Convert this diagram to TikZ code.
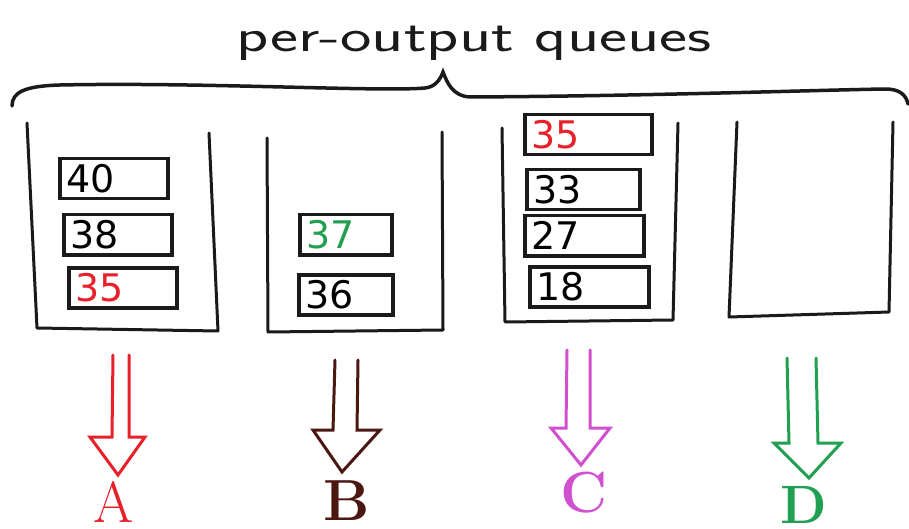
\documentclass[tikz,border=0pt]{standalone}
\usepackage{fontspec}
\newfontfamily\digitfont{DejaVu Sans}
\definecolor{inkred}{HTML}{E8202A}
\definecolor{inkbrown}{HTML}{4A1810}
\definecolor{inkmagenta}{HTML}{D050D0}
\definecolor{inkgreen}{HTML}{20A050}
\definecolor{inkgrey}{HTML}{1A1A1A}
\tikzset{
  wall/.style={draw=inkgrey, line width=3pt, line join=round, line cap=round},
  qbox/.style={draw=inkgrey, line width=3.5pt, anchor=north west, inner xsep=7pt,
    inner ysep=0pt, minimum height=40pt, align=left,
    font=\digitfont\fontsize{38}{38}\selectfont},
  outarrow/.style={line width=3pt, line join=miter, line cap=round},
  outlabel/.style={anchor=north, inner sep=0pt, font=\fontsize{58}{58}\selectfont},
  boldlabel/.style={outlabel, font=\bfseries\fontsize{58}{58}\selectfont}
}
\begin{document}
\begin{tikzpicture}[x=1pt, y=-1pt]
\useasboundingbox[fill=white] (0,0) rectangle (909,529);

% heading and its brace
\node[anchor=base, inner sep=0pt, text=inkgrey,
      font=\sffamily\fontsize{46}{46}\selectfont]
      (title) at (474,52) {\scalebox{1.45}[1]{per-output queues}};
\draw[inkgrey, line width=3.5pt, line cap=round]
  (12,106) .. controls (12,92) and (25,86) .. (60,85)
  .. controls (200,82) and (380,92) .. (425,88)
  .. controls (435,87) and (440,80) .. (443,72)
  .. controls (447,82) and (452,96) .. (470,97)
  .. controls (650,96) and (820,90) .. (885,89)
  .. controls (900,89) and (906,95) .. (908,104);

% queue A
\draw[wall] (27,123) -- (37,328) -- (218,331) -- (209,133);
\node[qbox, text width=94pt] (a40) at (58,157) {40};
\node[qbox, text width=94pt] (a38) at (62,213) {38};
\node[qbox, text width=94pt, text=inkred] (a35) at (67,266) {35};

% queue B
\draw[wall] (267,138) -- (268,332) -- (443,330) -- (442,132);
\node[qbox, text width=78pt, text=inkgreen] (b37) at (298,213) {37};
\node[qbox, text width=80pt] (b36) at (297,273) {36};

% queue C
\draw[wall] (502,128) -- (505,322) -- (673,320) -- (678,123);
\node[qbox, text width=113pt, text=inkred] (c35) at (523,113) {35};
\node[qbox, text width=99pt] (c33) at (525,168) {33};
\node[qbox, text width=105pt] (c27) at (523,214) {27};
\node[qbox, text width=105pt] (c18) at (528,265) {18};

% queue D (empty)
\draw[wall] (737,122) -- (729,317) -- (889,312) -- (893,122);

% output labels
\node[outlabel, text=inkred] (labA) at (114,481) {A};
\node[boldlabel, text=inkbrown] (labB) at (347,481) {B};
\node[boldlabel, text=inkmagenta] (labC) at (584,472) {C};
\node[boldlabel, text=inkgreen, font=\bfseries\fontsize{54}{54}\selectfont] (labD) at (804,486) {D};

% hollow output arrows
\draw[outarrow, draw=inkred]
  (113,355) -- (112,437) -- (90,437) -- (118,475) -- (145,437) -- (129,437) -- (129,355);
\draw[outarrow, draw=inkbrown]
  (335,360) -- (333,430) -- (313,430) -- (342,472) -- (380,430) -- (357,430) -- (358,360);
\draw[outarrow, draw=inkmagenta]
  (567,350) -- (566,428) -- (551,428) -- (581,465) -- (610,428) -- (590,428) -- (590,350);
\draw[outarrow, draw=inkgreen]
  (787,358) -- (789,443) -- (774,443) -- (809,478) -- (841,443) -- (818,443) -- (816,358);
\end{tikzpicture}
\end{document}
